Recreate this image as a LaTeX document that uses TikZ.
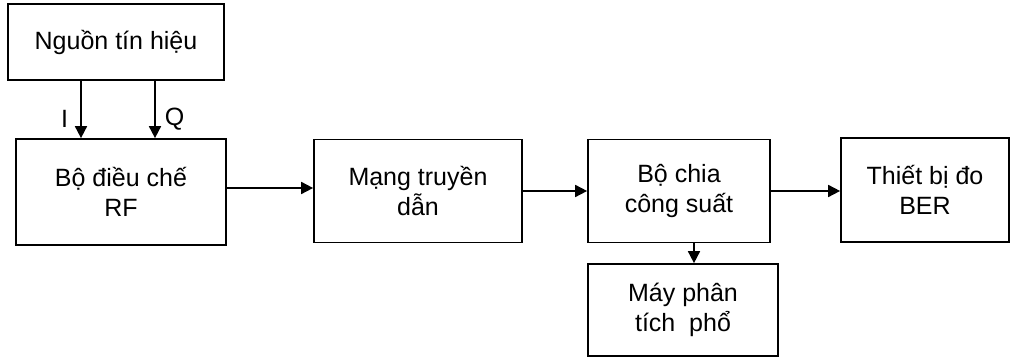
\documentclass[tikz,border=0pt]{standalone}
\usepackage{fontspec}
\setmainfont{Liberation Sans}
\usetikzlibrary{arrows.meta,positioning}

\begin{document}
\begin{tikzpicture}[x=1pt,y=1pt,line width=1.7pt,>={Triangle[length=12pt,width=12pt]},
 block/.style={draw,rectangle,inner sep=0pt,align=center,font=\fontsize{25}{30}\selectfont},
 lbl/.style={font=\fontsize{25}{30}\selectfont,inner sep=0pt}]
 \useasboundingbox (0,0) rectangle (1011,358);

 \node[block,minimum width=216pt,minimum height=76pt] (src) at (116,316) {Nguồn tín hiệu};
 \node[block,minimum width=210pt,minimum height=106pt] (mod) at (121,166) {Bộ điều chế\\RF};
 \node[block,minimum width=208pt,minimum height=103pt] (net) at (418,167) {Mạng truyền\\dẫn};
 \node[block,minimum width=182pt,minimum height=103pt] (split) at (679,167) {Bộ chia\\công suất};
 \node[block,minimum width=168pt,minimum height=104pt] (ber) at (925,168) {Thiết bị đo\\BER};
 \node[block,minimum width=190pt,minimum height=92pt] (spec) at (683,48) {Máy phân\\tích\ \ phổ};

 \draw[->] ([xshift=-35pt]src.south) -- ([xshift=-35pt]src.south |- mod.north)
  node[lbl,pos=0.66,left=12pt] {I};
 \draw[->] ([xshift=39pt]src.south) -- ([xshift=39pt]src.south |- mod.north)
  node[lbl,pos=0.66,right=9pt] {Q};
 \draw[->] ([yshift=4pt]mod.east) -- ([yshift=4pt]mod.east -| net.west);
 \draw[->] (net.east) -- (net.east -| split.west);
 \draw[->] (split.east) -- (split.east -| ber.west);
 \draw[->] ([xshift=15pt]split.south) -- ([xshift=15pt]split.south |- spec.north);
\end{tikzpicture}
\end{document}
